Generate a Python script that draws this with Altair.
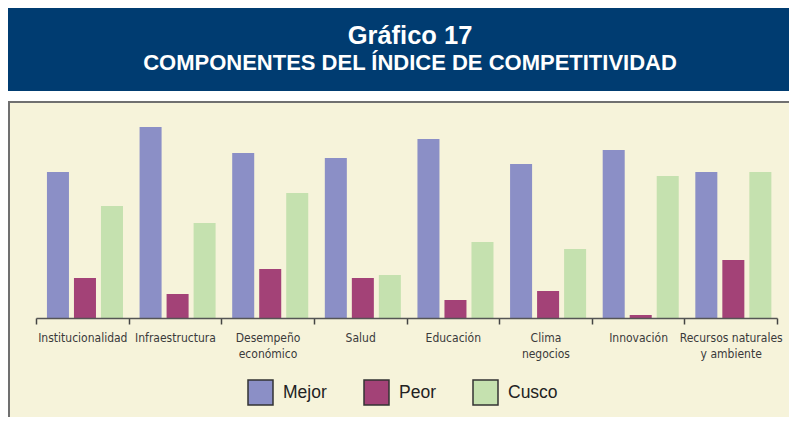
import json
import altair as alt
import pandas as pd

# ---------------- data ----------------
categories = [
    "Institucionalidad", "Infraestructura", "Desempeño económico", "Salud",
    "Educación", "Clima negocios", "Innovación", "Recursos naturales y ambiente",
]
label_lines = [
    ["Institucionalidad"], ["Infraestructura"], ["Desempeño", "económico"], ["Salud"],
    ["Educación"], ["Clima", "negocios"], ["Innovación"], ["Recursos naturales", "y ambiente"],
]
series = ["Mejor", "Peor", "Cusco"]
mejor = [7.3, 9.55, 8.25, 8.0, 8.95, 7.7, 8.4, 7.3]
peor = [2.0, 1.2, 2.45, 2.0, 0.9, 1.35, 0.15, 2.9]
cusco = [5.6, 4.75, 6.25, 2.15, 3.8, 3.45, 7.1, 7.3]
colors = ["#8B8FC6", "#A34277", "#C5E1AF"]
title_text = "Gráfico 17"
subtitle_text = "COMPONENTES DEL ÍNDICE DE COMPETITIVIDAD"

rows = []
for i, c in enumerate(categories):
    for s, vals in zip(series, [mejor, peor, cusco]):
        rows.append({"Componente": c, "Serie": s, "Valor": vals[i]})
df = pd.DataFrame(rows)

# label expression for multi-line labels
expr = "datum.label"
for c, lines in zip(categories, label_lines):
    if len(lines) > 1:
        expr = f"datum.label == {json.dumps(c)} ? {json.dumps(lines)} : ({expr})"

W, H = 741, 208
PAD = {"left": 28, "top": 102, "right": 12, "bottom": 99}

one = pd.DataFrame({"k": [0]})

panel = alt.Chart(one).mark_rect(
    fill="#F6F3DA", stroke="#707070", strokeWidth=2
).encode(
    x=alt.value(-27), x2=alt.value(W + 60), y=alt.value(-8), y2=alt.value(H + 200)
)

header = alt.Chart(one).mark_rect(fill="#003C71").encode(
    x=alt.value(-28), x2=alt.value(W + 12), y=alt.value(-102), y2=alt.value(-19)
)

title = alt.Chart(pd.DataFrame({"t": [title_text]})).mark_text(
    font="Liberation Sans", fontWeight="bold", fontSize=25.5, color="white",
    align="center", baseline="alphabetic"
).encode(text="t:N", x=alt.value(374), y=alt.value(-66))

subtitle = alt.Chart(pd.DataFrame({"t": [subtitle_text]})).mark_text(
    font="Liberation Sans", fontWeight="bold", fontSize=22, color="white",
    align="center", baseline="alphabetic"
).encode(text="t:N", x=alt.value(374), y=alt.value(-40))

bars = alt.Chart(df).mark_bar().encode(
    x=alt.X(
        "Componente:N", sort=categories, title=None,
        scale=alt.Scale(paddingInner=0, paddingOuter=0),
        axis=alt.Axis(
            labelAngle=0, tickBand="extent", tickSize=6, tickWidth=1.5,
            tickColor="#444", domainColor="#555", domainWidth=1.5,
            labelFont="DejaVu Sans Condensed, Roboto Condensed, Liberation Sans",
            labelFontSize=12,
            labelColor="#3a3a3a", labelPadding=8, labelLineHeight=16,
            labelBaseline="top", labelExpr=expr, zindex=1, grid=False,
            labelOverlap=False,
        ),
    ),
    xOffset=alt.XOffset(
        "Serie:N", sort=series,
        scale=alt.Scale(paddingInner=0.185, paddingOuter=0.307, align=0.66),
    ),
    y=alt.Y("Valor:Q", axis=None, scale=alt.Scale(domain=[0, 10.4], nice=False)),
    color=alt.Color(
        "Serie:N", sort=series, title=None,
        scale=alt.Scale(domain=series, range=colors),
        legend=alt.Legend(
            orient="none", legendX=211, legendY=269, direction="horizontal",
            symbolType="square", symbolSize=625, symbolStrokeColor="#333",
            symbolStrokeWidth=1.5, symbolOpacity=1, labelFontSize=17.5,
            labelFont="Liberation Sans", labelColor="#222", labelOffset=9,
            columnPadding=34, padding=0,
        ),
    ),
)

chart = alt.layer(panel, header, title, subtitle, bars).properties(
    width=W, height=H, padding=PAD,
    autosize=alt.AutoSizeParams(type="none"),
    background="white",
).configure_view(stroke=None)

chart.save("out.html", embed_options={"renderer": "svg", "actions": False})
